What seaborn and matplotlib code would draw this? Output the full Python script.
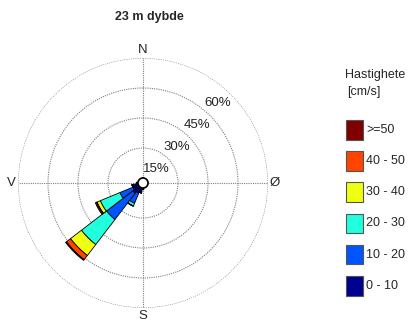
import numpy as np
import matplotlib
matplotlib.use("Agg")
import matplotlib.pyplot as plt
from matplotlib.patches import Circle, Rectangle
import seaborn as sns

# sector centres (degrees, clockwise from north) and % per speed class
directions = [180, 195, 210, 225, 240, 255, 270]
speed_classes = ["0 - 10", "10 - 20", "20 - 30", "30 - 40", "40 - 50", ">=50"]
freq_0_10 = [0.8, 2.0, 3.0, 4.0, 3.0, 2.5, 0.8]
freq_10_20 = [0.0, 0.5, 5.5, 16.5, 7.0, 0.5, 0.0]
freq_20_30 = [0.0, 0.0, 1.5, 15.8, 10.6, 0.0, 0.0]
freq_30_40 = [0.0, 0.0, 0.0, 6.9, 1.8, 0.0, 0.0]
freq_40_50 = [0.0, 0.0, 0.0, 2.6, 0.2, 0.0, 0.0]
freq_50 = [0.0, 0.0, 0.0, 0.5, 0.7, 0.0, 0.0]

ring_values = [15, 30, 45, 60]
ring_labels = ["15%", "30%", "45%", "60%"]
compass = {"N": 0, "Ø": 90, "S": 180, "V": 270}

sns.set_style("white")
plt.rcParams["font.family"] = ["Liberation Sans", "DejaVu Sans"]

colors = sns.color_palette(["#000090", "#0055ff", "#22ffdd", "#eeff11", "#ff4400", "#800000"])
series = [freq_0_10, freq_10_20, freq_20_30, freq_30_40, freq_40_50, freq_50]

W, H = 412, 322
fig = plt.figure(figsize=(W / 100, H / 100), dpi=100)
ax = fig.add_axes([18 / W, 14 / H, 250 / W, 250 / H], projection="polar")
ax.set_theta_zero_location("N")
ax.set_theta_direction(-1)
ax.set_rorigin(-2.5)
ax.set_ylim(0, 60)

theta = np.radians(directions)
bottom = np.zeros(len(directions))
for vals, col in zip(series, colors):
    vals = np.array(vals)
    ax.bar(theta, vals, width=np.radians(15), bottom=bottom, color=col,
           edgecolor="black", linewidth=0.6, zorder=3)
    bottom += vals

ax.set_rticks(ring_values)
ax.set_yticklabels([])
ax.set_xticks(np.radians([0, 90, 180, 270]))
ax.set_xticklabels([])
ax.grid(True, color="#808080", linestyle=(0, (1, 1)), linewidth=0.8)
ax.spines["polar"].set_visible(False)
ax.patch.set_alpha(0)

for r, lab in zip(ring_values, ring_labels):
    ax.text(np.radians(43), r - 8, lab, ha="center", va="center", fontsize=9.5, color="#222222", zorder=4)

for lab, ang in compass.items():
    rr = 64.0 if lab in ("N", "S") else 63.5
    ax.text(np.radians(ang), rr, lab, ha="center", va="center", fontsize=9.5, clip_on=False)

ax.add_patch(Circle((0.5, 0.5), 5 / 250, transform=ax.transAxes, facecolor="white",
                    edgecolor="black", linewidth=1.2, zorder=6, clip_on=False))

fig.text(149 / W, 1 - 17 / H, "23 m dybde", ha="center", va="center", fontsize=9, fontweight="bold")

# legend, drawn in figure pixel positions (top entry first)
fig.text(345 / W, 1 - 75 / H, "Hastighete", ha="left", va="center", fontsize=9)
fig.text(347 / W, 1 - 92 / H, "[cm/s]", ha="left", va="center", fontsize=9)
for i, (lab, col) in enumerate(zip(speed_classes[::-1], list(colors)[::-1])):
    yc = 129.7 + 31.2 * i
    fig.add_artist(Rectangle((346 / W, 1 - (yc + 9.8) / H), 16.5 / W, 19.5 / H,
                             transform=fig.transFigure, facecolor=col,
                             edgecolor="#555555", linewidth=0.8))
    fig.text(366.5 / W, 1 - yc / H, lab, ha="left", va="center", fontsize=9)

fig.savefig("out.png", dpi=100)
